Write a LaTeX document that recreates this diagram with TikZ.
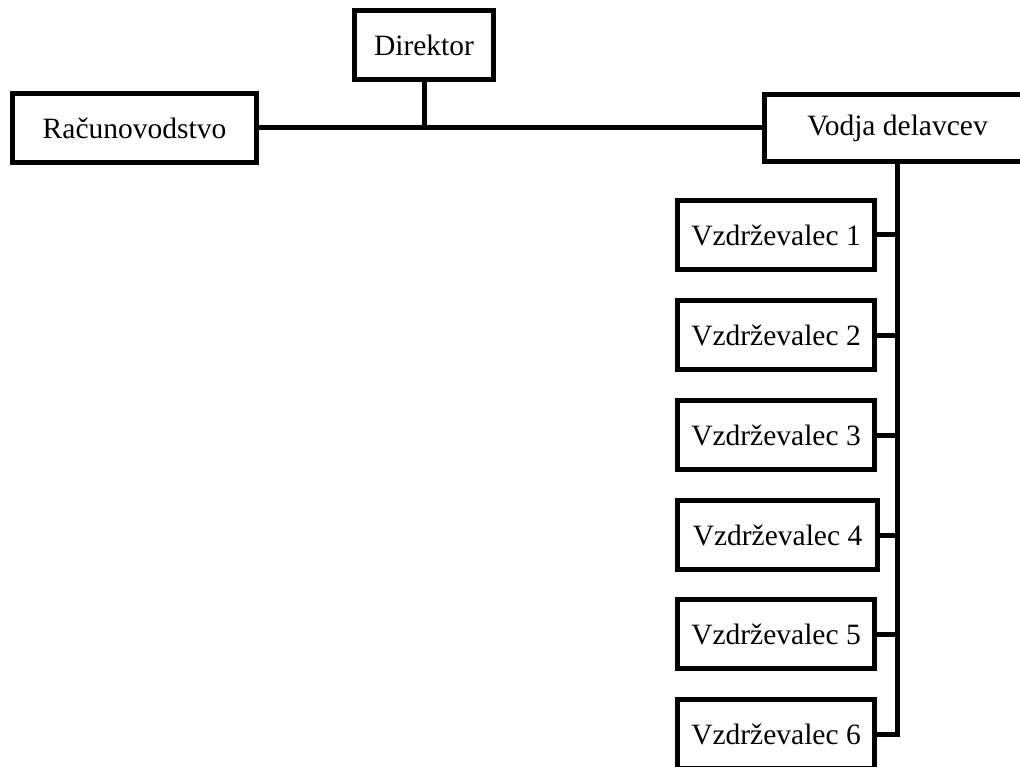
\documentclass[tikz,border=0pt]{standalone}
\usepackage{fontspec}
\setmainfont{Liberation Serif}
\begin{document}
\begin{tikzpicture}[x=1pt,y=-1pt,
  box/.style={draw=black, line width=5pt, fill=white, rectangle, inner sep=0pt,
    font=\fontsize{29.5}{34}\selectfont, text=black},
  conn/.style={draw=black, line width=5pt}]
\clip (0,0) rectangle (1020,767);
\node[box, minimum width=139pt, minimum height=69pt] (dir) at (424,45) {Direktor};
\node[box, minimum width=244pt, minimum height=69pt] (rac) at (134.5,128) {Računovodstvo};
\node[box, minimum width=266pt, minimum height=67pt] (vod) at (897.5,128) {Vodja delavcev};
\node[box, minimum width=197pt, minimum height=69pt] (v1) at (776,235) {Vzdrževalec 1};
\node[box, minimum width=197pt, minimum height=69pt] (v2) at (776,335) {Vzdrževalec 2};
\node[box, minimum width=197pt, minimum height=69pt] (v3) at (776,435) {Vzdrževalec 3};
\node[box, minimum width=200pt, minimum height=69pt] (v4) at (777.5,535) {Vzdrževalec 4};
\node[box, minimum width=197pt, minimum height=69pt] (v5) at (776,634) {Vzdrževalec 5};
\node[box, minimum width=197pt, minimum height=69pt] (v6) at (776,734) {Vzdrževalec 6};
\draw[conn] (rac.east) -- (rac.east -| vod.west);
\draw[conn] (dir.south) -- (dir.south |- rac.east);
\draw[conn] (vod.south) |- (v6.east);
\foreach \n in {v1,v2,v3,v4,v5} {
  \draw[conn] (\n.east) -- (\n.east -| vod.south);
}
\end{tikzpicture}
\end{document}
